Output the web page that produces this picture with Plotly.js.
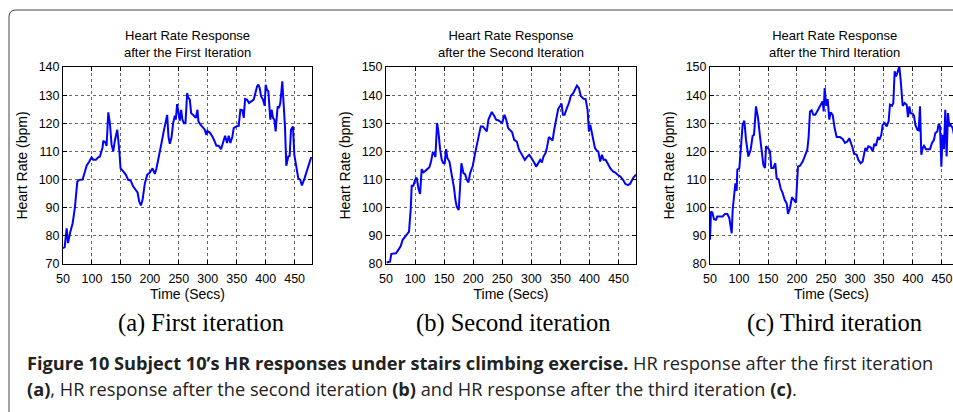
<!DOCTYPE html>
<html>
<head>
<meta charset="utf-8">
<script src="https://cdn.plot.ly/plotly-3.0.1.min.js"></script>
<style>html,body{margin:0;padding:0;background:#fff;}#chart{width:953px;height:412px;}</style>
</head>
<body>
<div id="chart"></div>
<script>
// ---- data ----
const panelTitles = ["Heart Rate Response<br>after the First Iteration",
                     "Heart Rate Response<br>after the Second Iteration",
                     "Heart Rate Response<br>after the Third Iteration"];
const subCaptions = ["(a) First iteration", "(b) Second iteration", "(c) Third iteration"];
const xTicks = [50, 100, 150, 200, 250, 300, 350, 400, 450];
const yTicks1 = [70, 80, 90, 100, 110, 120, 130, 140];
const yTicks23 = [80, 90, 100, 110, 120, 130, 140, 150];

const t1 = [50,52.9,56.3,58.6,62.1,66.7,70.7,74.7,78.2,83.9,87.9,90.8,95.4,99.4,102.3,106.9,110.9,113.8,118.4,119.5,123,125.3,128.2,131,133.9,136.8,139.7,143.7,147.1,149.4,154,158.6,162.6,166.7,171.3,175.9,178.7,181.6,184.5,187.4,191.4,195.4,200,204.6,208.6,211.5,216.1,220.1,224.1,227.6,229.9,232.2,234.5,237.4,240.2,243.1,244.8,247.1,249.4,251.7,254,256.3,258.6,261.5,264.4,266.7,269,271.3,274.7,279.3,282.2,283.9,287.4,290.8,294.3,297.7,299.4,303.4,308,312.1,314.9,318.9,323,326.4,329.9,333.3,336.2,339.1,342.5,344.8,349.4,353.4,356.3,359.8,362.1,364.4,367.8,371.3,375.3,379.3,382.2,385.1,387.4,389.7,392,395.4,398.3,400,402.3,404.6,408,410.3,412.6,414.9,417.2,420.7,423,425.3,428.7,431,433.3,435.6,439,441.4,443.7,447.1,449.5,452.9,456.3,459.8,462.6,467.2,473,478.7];
const hr1 = [75.6,76,82.7,77.4,81,84.5,90.4,99.3,99.9,100,102.9,104.9,106.4,107.9,107,107,107.9,108.2,111.5,113.8,113.2,112,123.9,120,112.4,110,114,117.7,110.6,104,102.9,101.7,99.9,99.7,97.5,96,95.4,92.2,90.8,92.8,98.7,101.7,102.5,104,102,104,108.2,113,117.3,121,123,115.1,112.7,115,120,122.7,121.3,126.8,123,120.9,124.8,121.3,120,120,130.7,129,128.4,123.6,123,121.9,124.8,120.7,119.5,118.5,117.9,115.9,117.3,116.7,115.3,113.5,112,112,110.8,113.2,115.6,113,115.6,113,115.3,118.3,118.9,119.1,124.8,124.6,121.9,128.6,128.4,127.2,127.8,128.4,130.7,133.1,133.7,132.5,129.6,128.4,126.2,133.7,131.9,131.3,121.3,124.8,121.9,121.3,117.1,126,125.4,127.2,134.9,127.2,118.9,104.9,108.2,108.4,117.7,118.9,108.8,104.6,100.5,99.9,97.9,100.5,104.1,108];

const t2 = [51.1,54,56.9,59.2,63.8,67.2,71.2,75.3,78.7,82.7,86.7,89.6,92.5,94.2,97.1,99.9,102.8,105.7,108.6,111.4,114.3,117.7,121.2,124.6,127.5,130.4,132.7,135,137.8,140.1,143,145.9,148.7,151,153.3,155.6,159.1,161.4,164.2,167.1,169.4,171.7,175.1,177.4,179.7,183.2,186.1,188.9,191.8,194.7,199.3,203.3,207.3,210.7,213,216.5,220.5,223.4,226.2,229.1,232,236,239.4,243.5,247.5,249.8,253.8,256.7,260.1,263.6,267,270.4,275,278.5,281.9,285.4,288.8,292.3,296.3,299.1,302.6,305.5,308.3,311.8,315.2,318.1,321,324.4,326.7,330.1,332.4,336.5,339.3,342.8,346.2,349.7,352,354.3,357.1,361.1,364.6,368,371.5,374.9,378.4,381.8,385.2,389.8,393.3,396.7,399,401.3,403,405.9,409.4,412.8,415.1,418.5,421.4,424.3,427.7,431.2,435.8,440.4,444.4,448.4,453,457.6,461.6,466,470,475,480];
const hr2 = [80.5,80.8,80.8,83.6,83.8,83.8,85,86.4,88.6,89.5,90.7,91.5,99.5,107.8,107.8,109.9,110.7,106.9,104.9,113.7,112.6,113.1,113.7,114.4,116.4,119.6,119.4,118,130.1,127.1,120.8,117,115.8,115.8,120.8,117.6,116.4,114,111.1,106.9,102.8,100.4,99.2,108.1,115.8,112.3,111.9,109.9,109,112.3,114.9,119.4,123.5,126.3,128.9,128.9,127.7,127.1,131.3,132.7,134,132.7,131.3,131,130.3,130.1,133,131.3,128.3,127.7,126.8,124.1,123.5,120.8,119.4,118.2,117,118,118.8,118,117,115.8,114.6,115.8,117,116.1,118.2,119.4,121.2,125.1,124.7,123.9,127.7,131.3,135.1,136.2,137,133,133,135.4,137.2,139.8,140.5,141.9,143.4,142.5,139.6,138.7,138.6,134.8,127.1,129.5,127.7,124.1,121.2,120.2,120,116.4,118.8,117,117,115.8,114,112.9,112.5,111.7,111.1,109.9,108.5,108,108.5,110.5,111.8];

const t3 = [50,51.7,54,56.9,60.3,62.6,67.2,71.8,75.9,79.9,83.3,85.6,87.4,89.1,91.4,93.7,96,97.1,100.6,103.4,106.3,109.2,112.1,116.1,120.1,123.6,125.9,129.3,132.8,136.2,139.1,142,144.8,146.6,150,153.4,155.7,159.2,162.6,164.9,168.4,171.8,175.3,178.7,182.2,184.5,187.9,191.4,194.8,198.3,201.7,205.2,209.8,213.8,217.8,220.1,222.4,225.3,228.2,231.6,235.1,238.5,242,244.3,246,247.7,249.4,251.1,252.9,255.7,258,261.5,264.9,268.4,274.1,278.7,282.8,286.8,290.2,293.7,296,298.3,302.9,305.7,309.8,313.2,315.5,317.8,320.1,323,327,330.5,333.3,336.2,339.7,342,345.4,347.7,351.1,354.6,358,360.3,363.8,366.1,368.4,370.7,373,376.4,378.7,382.2,385.6,389.1,391.4,393.7,396,399.4,401.7,404,407.5,409.8,412.1,414.4,416.7,419,422.4,425.9,429.3,432.8,436.2,438.5,442,444.3,446.6,448.9,451.1,453.4,455.7,458,460.3,462.6,464.9,468.4,470.7,475];
const hr3 = [88.6,98.6,98.3,95.9,95.7,96.9,96.9,96.9,97.8,97.8,96.3,93.9,90.9,99.2,105.2,108.7,106,113.5,114.1,121.8,129.5,130.9,124.1,118.2,120.6,125.6,125.9,136,131.9,125.3,120.6,115.2,114.1,121.8,121.2,120,114.1,114.1,115.8,110.5,110.1,106.9,105.2,102.8,101.6,97.8,99.8,103.7,102.8,101.8,114.6,114.9,116.4,118.2,120.6,125.3,134.2,134.6,133,133,134.2,135.4,137,137.8,134.2,142.5,138.6,136.2,138.6,131.3,133.9,133,128.3,125.1,125.1,124.4,123,123.5,124.7,123,121.2,119.2,118.8,117,115.8,116.4,119.4,121.2,120.3,121.8,121.5,120,122.7,122,125.1,124.1,125.9,129.5,130.1,128.9,130.7,136.6,136.2,137.2,148.5,146.7,147.9,150.2,145.5,136.2,137.2,136.6,132.2,136,133.6,133.4,132.7,129.5,127.7,127.5,136,118.8,121.2,122,120.8,120.8,120.8,123,124.1,126.5,127.1,129.8,128.9,114.6,125.9,120.8,134.8,118.2,133.6,128.9,129.5,128.3,125.9,124];

// ---- layout helpers ----
const W = 953, H = 412;
const px = x => x / W;
const py = y => 1 - y / H;
const tickFont = {family: "Liberation Sans, Arial, sans-serif", size: 12.5, color: "#000"};
const labFont = {family: "Liberation Sans, Arial, sans-serif", size: 14, color: "#000"};

function xAx(dom, range, anchor) {
  return {domain: dom, range: range, anchor: anchor, tickvals: xTicks, ticks: "inside", ticklen: 4,
    tickcolor: "#000", showline: true, linecolor: "#000", linewidth: 1, mirror: "ticks",
    showgrid: true, gridcolor: "#666", griddash: "dot", gridwidth: 1, zeroline: false,
    tickfont: tickFont, ticklabelstandoff: 3, fixedrange: true,
    title: {text: "Time (Secs)", font: labFont, standoff: 4}};
}
function yAx(range, ticks, anchor) {
  return {domain: [py(264), py(67)], range: range, anchor: anchor, tickvals: ticks, ticks: "inside", ticklen: 4,
    tickcolor: "#000", showline: true, linecolor: "#000", linewidth: 1, mirror: "ticks",
    showgrid: true, gridcolor: "#666", griddash: "dot", gridwidth: 1, zeroline: false,
    tickfont: tickFont, fixedrange: true,
    title: {text: "Heart Rate (bpm)", font: labFont, standoff: 7}};
}

const lineStyle = {color: "#0000ff", width: 2};
const traces = [
  {x: t1, y: hr1, xaxis: "x", yaxis: "y", mode: "lines", line: lineStyle, showlegend: false},
  {x: t2, y: hr2, xaxis: "x2", yaxis: "y2", mode: "lines", line: lineStyle, showlegend: false},
  {x: t3, y: hr3, xaxis: "x3", yaxis: "y3", mode: "lines", line: lineStyle, showlegend: false}
];

const centers = [(63 + 312) / 2, (386 + 636) / 2, (710 + 959) / 2];
const subCenters = [201, 513, 834];
const annotations = [];
for (let i = 0; i < 3; i++) {
  annotations.push({xref: "paper", yref: "paper", x: px(centers[i]), y: py(43.5), xanchor: "center", yanchor: "middle",
    text: panelTitles[i], showarrow: false, font: {family: "Liberation Sans, Arial, sans-serif", size: 13, color: "#000"}});
  annotations.push({xref: "paper", yref: "paper", x: px(subCenters[i]), y: py(323), xanchor: "center", yanchor: "middle",
    text: subCaptions[i], showarrow: false, font: {family: "Liberation Serif, serif", size: 24.5, color: "#000"}});
}
const capFont = {family: "Open Sans, sans-serif", size: 18.2, color: "#222"};
annotations.push({xref: "paper", yref: "paper", x: px(25), y: py(363), xanchor: "left", yanchor: "middle", align: "left",
  text: "<b>Figure 10 Subject 10’s HR responses under stairs climbing exercise.</b> HR response after the first iteration",
  showarrow: false, font: capFont});
annotations.push({xref: "paper", yref: "paper", x: px(25), y: py(389), xanchor: "left", yanchor: "middle", align: "left",
  text: "<b>(a)</b>, HR response after the second iteration <b>(b)</b> and HR response after the third iteration <b>(c)</b>.",
  showarrow: false, font: capFont});

const fx = px(9), fy = py(10), rx = 7 / W, ry = 7 / H;
const framePath = `M ${fx},-0.2 L ${fx},${fy - ry} Q ${fx},${fy} ${fx + rx},${fy} L 1.2,${fy}`;

const layout = {
  width: W, height: H, margin: {l: 0, r: 0, t: 0, b: 0, pad: 0},
  paper_bgcolor: "#fff", plot_bgcolor: "#fff", showlegend: false,
  xaxis: xAx([px(63), px(312)], [50, 480], "y"),
  yaxis: yAx([70, 140], yTicks1, "x"),
  xaxis2: xAx([px(386), px(636)], [50, 480], "y2"),
  yaxis2: yAx([80, 150], yTicks23, "x2"),
  xaxis3: xAx([px(710), 1], [50, 469], "y3"),
  yaxis3: yAx([80, 150], yTicks23, "x3"),
  annotations: annotations,
  shapes: [{type: "path", xref: "paper", yref: "paper", path: framePath, line: {color: "#444", width: 1}}]
};

Plotly.newPlot("chart", traces, layout, {staticPlot: true, displayModeBar: false});
</script>
</body>
</html>
